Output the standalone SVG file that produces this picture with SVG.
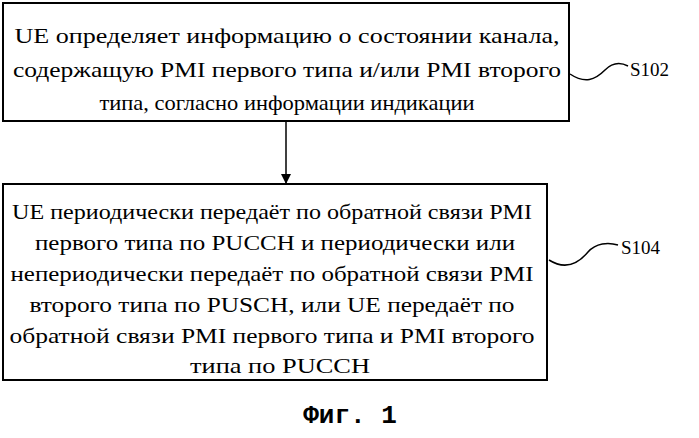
<svg xmlns="http://www.w3.org/2000/svg" width="699" height="438" viewBox="0 0 699 438">
<style>
.b{fill:#fff;stroke:#000;stroke-width:2}
.t{font-family:"Liberation Serif",serif;font-size:22px;fill:#000;text-anchor:middle}
.l{font-family:"Liberation Serif",serif;font-size:19px;fill:#000}
.c{fill:none;stroke:#000;stroke-width:1.5}
</style>
<defs><marker id="a" markerWidth="10" markerHeight="10" refX="9" refY="5" orient="auto" markerUnits="userSpaceOnUse"><path d="M0,0 L10,5 L0,10 z" fill="#000"/></marker></defs>
<rect width="699" height="438" fill="#fff"/>
<g id="n1"><rect class="b" x="3" y="3" width="566" height="118"/>
<text class="t" x="287" y="43" textLength="545" lengthAdjust="spacingAndGlyphs">UE определяет информацию о состоянии канала,</text>
<text class="t" x="287" y="77" textLength="548" lengthAdjust="spacingAndGlyphs">содержащую PMI первого типа и/или PMI второго</text>
<text class="t" x="287" y="110" textLength="375" lengthAdjust="spacingAndGlyphs">типа, согласно информации индикации</text></g>
<g id="n2"><rect class="b" x="3" y="184" width="544" height="196"/>
<text class="t" x="272" y="219" textLength="520" lengthAdjust="spacingAndGlyphs">UE периодически передаёт по обратной связи PMI</text>
<text class="t" x="275" y="250" textLength="480" lengthAdjust="spacingAndGlyphs">первого типа по PUCCH и периодически или</text>
<text class="t" x="272" y="281" textLength="523" lengthAdjust="spacingAndGlyphs">непериодически передаёт по обратной связи PMI</text>
<text class="t" x="272" y="312" textLength="485" lengthAdjust="spacingAndGlyphs">второго типа по PUSCH, или UE передаёт по</text>
<text class="t" x="272" y="343" textLength="525" lengthAdjust="spacingAndGlyphs">обратной связи PMI первого типа и PMI второго</text>
<text class="t" x="280" y="373" textLength="180" lengthAdjust="spacingAndGlyphs">типа по PUCCH</text></g>
<g id="connectors">
<line class="c" x1="286" y1="121" x2="286" y2="183" marker-end="url(#a)"/>
<path class="c" d="M570,74 C585,84 595,80 605,70 C612,63 620,62 628,66"/>
<path class="c" d="M549,260 C565,270 578,264 588,252 C596,243 608,242 618,245"/>
</g>
<text class="l" x="630" y="76">S102</text>
<text class="l" x="621" y="254">S104</text>
<text x="350" y="423" style="font-family:'Liberation Mono',monospace;font-weight:bold;font-size:26px" text-anchor="middle">Фиг. 1</text>
</svg>
